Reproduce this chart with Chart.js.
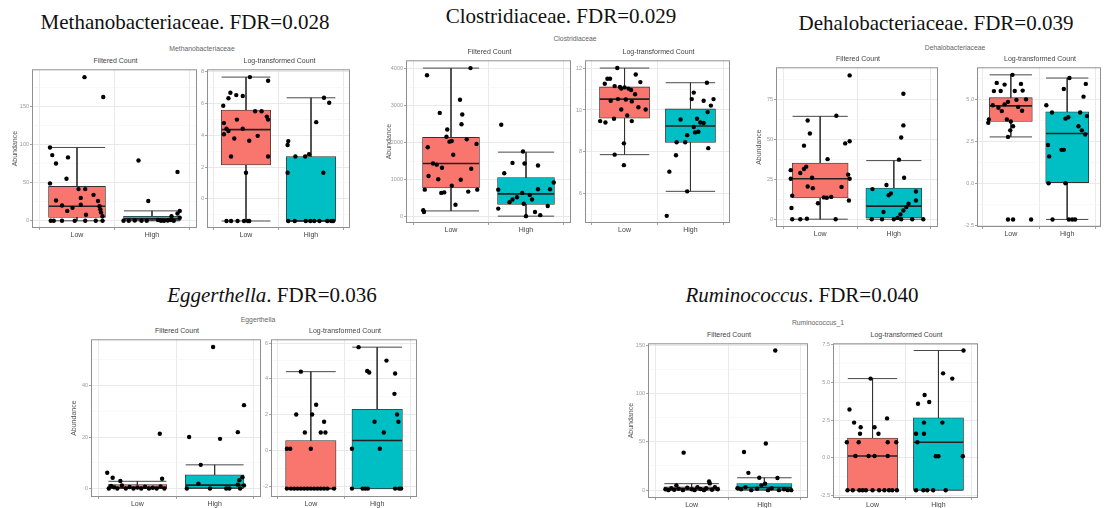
<!DOCTYPE html>
<html>
<head>
<meta charset="utf-8">
<script src="https://cdn.jsdelivr.net/npm/chart.js@4.4.1/dist/chart.umd.min.js"></script>
<style>
  body { margin: 0; width: 1104px; height: 508px; overflow: hidden; background: #fff; position: relative; }
  canvas { position: absolute; }
  .ttl { position: absolute; width: 400px; text-align: center; font-family: "Liberation Serif", serif; font-size: 21px; line-height: 24px; color: #111; white-space: nowrap; }
  .sub { position: absolute; width: 200px; text-align: center; font-family: "Liberation Sans", sans-serif; font-size: 6.8px; line-height: 8px; color: #666; }
  .pt { position: absolute; text-align: center; font-family: "Liberation Sans", sans-serif; font-size: 7px; line-height: 9px; color: #444; }
</style>
</head>
<body>
<div class="ttl" style="left:-15px; top:10px">Methanobacteriaceae. FDR=0.028</div>
<div class="ttl" style="left:361px; top:4px">Clostridiaceae. FDR=0.029</div>
<div class="ttl" style="left:736px; top:11px">Dehalobacteriaceae. FDR=0.039</div>
<div class="ttl" style="left:72px; top:283px"><i>Eggerthella</i>. FDR=0.036</div>
<div class="ttl" style="left:602px; top:283px"><i>Ruminococcus</i>. FDR=0.040</div>

<div class="sub" style="left:102px; top:45px">Methanobacteriaceae</div>
<div class="sub" style="left:475px; top:35px">Clostridiaceae</div>
<div class="sub" style="left:855px; top:44px">Dehalobacteriaceae</div>
<div class="sub" style="left:158px; top:316px">Eggerthella</div>
<div class="sub" style="left:718px; top:319px">Ruminococcus_1</div>

<script>
// categories
const groups = ['Low', 'High'];

// boxes: [lower whisker, q1, median, q3, upper whisker]
// points: [jitter, value]

// Methanobacteriaceae
const methFiltTicks = [0, 50, 100, 150];
const methFiltLowBox = [0, 4.3, 19, 45, 96];
const methFiltHighBox = [0, 0.5, 2.5, 6, 13];
const methFiltLowPts = [[-0.36, 96], [-0.33, 86], [-0.28, 75], [-0.12, 83], [-0.14, 55], [-0.36, 49], [-0.28, 26.5], [-0.2, 20], [-0.13, 13], [-0.06, 17], [0.02, 41.5], [0.11, 41.5], [0.05, 30], [0.05, 21], [0.22, 34], [0.28, 26], [0.3, 19], [0.31, 15], [0.32, 11], [0.12, 8], [0.34, 6], [0.1, 188], [0.35, 162], [-0.35, 0], [-0.31, 0], [-0.2, 0], [-0.03, 0], [0.11, 0], [0.25, 0], [0.34, 0]];
const methFiltHighPts = [[-0.18, 79], [-0.05, 26], [0.34, 64], [0.37, 13], [0.34, 9.5], [0.26, 6], [-0.38, 0], [-0.31, 0], [-0.23, 0.5], [-0.14, 0], [-0.07, 0], [0.08, 1], [0.12, 0], [0.16, 0], [0.21, 0.5], [0.25, 1], [0.29, 0], [0.37, 4]];
const methLogTicks = [0, 2, 4, 6, 8];
const methLogLowBox = [-1.39, 2.13, 4.35, 5.58, 7.65];
const methLogHighBox = [-1.39, -1.39, -1.39, 2.66, 6.35];
const methLogLowPts = [[0.06, 7.65], [0.34, 7.42], [-0.24, 6.67], [-0.15, 6.52], [-0.05, 6.46], [-0.27, 6.32], [-0.35, 5.85], [0.14, 5.5], [0.24, 5.5], [0.32, 5.17], [0.34, 4.98], [-0.34, 4.76], [-0.05, 4.41], [-0.3, 4.41], [-0.27, 4.26], [-0.34, 4.06], [-0.14, 4.98], [0.18, 3.96], [-0.18, 3.79], [0.05, 3.65], [0.34, 2.66], [-0.23, 2.66], [0, 1.64], [-0.3, -1.39], [-0.23, -1.39], [-0.13, -1.39], [-0.03, -1.39], [0.03, -1.39], [0.05, -1.39]];
const methLogHighPts = [[0.2, 6.35], [0.28, 6.04], [0.08, 4.82], [-0.35, 3.63], [-0.36, 3.38], [-0.24, 2.66], [-0.09, 2.66], [-0.03, 2.8], [-0.36, 1.64], [0.19, 1.64], [-0.35, -1.39], [-0.25, -1.39], [-0.08, -1.39], [-0.01, -1.39], [0.05, -1.39], [0.13, -1.39], [0.25, -1.39], [0.31, -1.39], [0.34, -1.39]];

// Clostridiaceae
const closFiltTicks = [0, 1000, 2000, 3000, 4000];
const closFiltLowBox = [159, 779, 1441, 2146, 4019];
const closFiltHighBox = [18, 336, 620, 1060, 1748];
const closFiltLowPts = [[-0.32, 3825], [0.26, 4019], [0.12, 3163], [-0.15, 2808], [0.15, 2765], [0.14, 2500], [-0.05, 2358], [-0.06, 2164], [-0.02, 2032], [0.01, 2050], [0.21, 2093], [0.34, 1971], [-0.31, 1881], [0.03, 1679], [-0.24, 1441], [-0.19, 1410], [-0.12, 1325], [0.27, 1298], [-0.3, 1105], [-0.17, 1017], [0.13, 1000], [0.01, 840], [-0.35, 734], [0.35, 734], [0.23, 681], [-0.13, 646], [-0.09, 660], [0.06, 328], [-0.37, 177], [-0.36, 130]];
const closFiltHighPts = [[-0.33, 2490], [-0.04, 1767], [-0.18, 1457], [-0.02, 1440], [0.16, 1388], [-0.29, 1176], [0.37, 927], [-0.37, 734], [0.16, 745], [0.32, 745], [-0.05, 646], [0.05, 593], [-0.12, 530], [-0.18, 469], [0.08, 469], [-0.22, 397], [-0.03, 355], [0.29, 291], [-0.37, 222], [0.12, 132], [0.19, 45], [0, 18]];
const closLogTicks = [6, 8, 10, 12];
const closLogLowBox = [7.87, 9.61, 10.52, 11.1, 12.0];
const closLogHighBox = [6.12, 8.45, 9.24, 10.05, 11.3];
const closLogLowPts = [[-0.11, 12.0], [-0.26, 11.49], [-0.22, 11.49], [-0.3, 11.25], [0.17, 11.69], [0.24, 11.33], [-0.15, 11.14], [-0.07, 11.1], [0, 11.08], [-0.05, 11.02], [0.06, 11.02], [0.1, 10.95], [0.16, 10.75], [-0.21, 10.44], [-0.1, 10.52], [0.02, 10.5], [0.11, 10.41], [0.21, 10.13], [0.32, 10.02], [-0.05, 10.02], [-0.37, 9.47], [-0.29, 9.4], [-0.16, 9.58], [0.04, 9.74], [0.11, 9.47], [-0.01, 8.41], [-0.15, 7.87], [-0.01, 7.37]];
const closLogHighPts = [[0.25, 11.3], [0.05, 10.83], [0.02, 10.52], [0.2, 10.44], [0.35, 10.52], [0.31, 10.21], [0.26, 9.9], [-0.15, 9.55], [0.1, 9.58], [0.15, 9.4], [0.2, 9.38], [0.05, 9.19], [-0.05, 8.8], [0.07, 8.93], [0.12, 8.96], [-0.21, 8.46], [0.27, 8.18], [-0.08, 8.46], [-0.22, 7.84], [-0.32, 7.06], [-0.05, 6.12], [-0.36, 4.95]];

// Dehalobacteriaceae
const dehaFiltTicks = [0, 25, 50, 75];
const dehaFiltLowBox = [0, 13.4, 25.4, 35.3, 64.6];
const dehaFiltHighBox = [0, 0.8, 8.2, 19.5, 36.8];
const dehaFiltLowPts = [[0.4, 90.3], [-0.17, 62], [0.22, 65], [-0.14, 53.8], [-0.22, 46.2], [0.4, 49], [0.34, 47.6], [0.1, 37.7], [-0.19, 33], [-0.22, 31.5], [-0.27, 29], [-0.4, 30.8], [-0.4, 25.4], [-0.11, 26], [0.38, 28], [0.4, 25.4], [-0.17, 20.5], [-0.1, 19.5], [0.29, 20.3], [-0.38, 14.8], [0.05, 13.7], [0.09, 13.5], [0.15, 14], [-0.03, 10], [0.39, 11.7], [-0.39, 7], [-0.38, 0], [-0.27, 0], [-0.18, 0.3], [0.21, 0]];
const dehaFiltHighPts = [[0.13, 78.8], [0.13, 58.9], [0.1, 51.3], [0.07, 37.4], [0.14, 26], [-0.1, 21.5], [-0.29, 18.9], [0.3, 17.4], [-0.04, 16.2], [-0.07, 15], [0.3, 11.7], [0.2, 9.7], [0.17, 7.6], [-0.14, 4.5], [0.13, 5.5], [0.09, 3], [-0.3, 0], [-0.16, 0], [0, 0], [0.05, 0.8], [0.1, 0], [0.25, 0], [0.4, 0]];
const dehaLogTicks = [-2.5, 0, 2.5, 5];
const dehaLogLowBox = [2.76, 3.68, 4.61, 5.1, 6.46];
const dehaLogHighBox = [-2.16, 0.04, 2.96, 4.26, 6.27];
const dehaLogLowPts = [[0.03, 6.46], [-0.25, 5.98], [-0.11, 5.88], [0.18, 5.92], [-0.3, 5.49], [-0.18, 5.5], [0.07, 5.5], [0.21, 5.52], [0.27, 5.0], [0.1, 4.97], [-0.05, 4.85], [-0.32, 4.65], [-0.22, 4.5], [-0.11, 4.7], [0.13, 4.55], [0.2, 4.32], [-0.16, 4.3], [-0.07, 3.8], [0, 3.68], [-0.4, 3.6], [-0.39, 3.8], [0.04, 3.4], [-0.01, 3.15], [-0.05, 2.76], [-0.05, -2.16], [0.04, -2.16], [0.36, -2.16]];
const dehaLogHighPts = [[0.04, 6.27], [0.33, 5.92], [-0.06, 5.62], [0.29, 5.16], [-0.37, 4.65], [-0.27, 4.22], [0.02, 3.93], [-0.03, 3.85], [0.23, 4.22], [0.35, 4.0], [0.2, 3.4], [0.26, 3.15], [0.32, 2.9], [-0.34, 2.28], [-0.1, 1.99], [-0.06, 1.99], [-0.32, 1.6], [-0.33, 0], [-0.03, 0], [-0.26, -2.16], [0.03, -2.16], [0.09, -2.16], [0.14, -2.16]];

// Eggerthella
const eggeFiltTicks = [0, 20, 40];
const eggeFiltLowBox = [0, 0.1, 0.4, 1.5, 2.8];
const eggeFiltHighBox = [0, 0.2, 1.3, 5.3, 9.2];
const eggeFiltLowPts = [[-0.39, 6.1], [-0.32, 4.2], [-0.22, 2.9], [0.29, 21.3], [0.32, 3.8], [-0.37, 0], [-0.34, 1], [-0.3, 0.5], [-0.26, 0], [-0.2, 1.2], [-0.15, 0], [-0.1, 0.6], [-0.05, 0], [0, 0.4], [0.05, 0], [0.1, 0.7], [0.15, 0], [0.2, 0.3], [0.25, 0], [0.3, 0.8], [0.35, 0]];
const eggeFiltHighPts = [[-0.02, 55], [-0.33, 20], [0.07, 19.3], [0.3, 21.9], [0.38, 32.4], [-0.18, 9.2], [-0.21, 1.9], [0.32, 3.2], [0.36, 4.4], [0.3, 1.5], [-0.36, 0], [-0.06, 0], [0.15, 0], [0.19, 0], [0.33, 0], [0.38, 1.2]];
const eggeLogTicks = [-2, 0, 2, 4, 6];
const eggeLogLowBox = [-2.14, -2.14, -2.14, 0.55, 4.4];
const eggeLogHighBox = [-2.14, -2.14, 0.55, 2.3, 5.77];
const eggeLogLowPts = [[-0.15, 4.4], [-0.22, 2.0], [0.02, 2.0], [0.08, 2.55], [0.2, 1.6], [-0.09, 1.0], [0.15, 1.0], [0.22, 1.0], [-0.36, 0.09], [-0.31, 0.09], [0, 0.09], [-0.36, -2.14], [-0.3, -2.14], [-0.25, -2.14], [-0.2, -2.14], [-0.15, -2.14], [-0.1, -2.14], [-0.05, -2.14], [0, -2.14], [0.05, -2.14], [0.1, -2.14], [0.15, -2.14], [0.2, -2.14], [0.25, -2.14], [0.35, -2.14]];
const eggeLogHighPts = [[-0.28, 5.77], [0.14, 5.02], [-0.15, 4.44], [-0.12, 4.35], [0.27, 4.3], [0.26, 3.16], [-0.04, 1.6], [0.1, 1.0], [0.3, 2.0], [0.32, 1.6], [0.04, 0.09], [-0.38, 0.09], [-0.38, -2.14], [-0.22, -2.14], [-0.18, -2.14], [-0.14, -2.14], [0.27, -2.14], [0.33, -2.14], [0.36, -2.14]];

// Ruminococcus
const rumiFiltTicks = [0, 50, 100, 150];
const rumiFiltLowBox = [0, 0.3, 1.7, 3.4, 6.7];
const rumiFiltHighBox = [0, 0.3, 2.7, 6.8, 12.8];
const rumiFiltLowPts = [[-0.11, 38.8], [-0.21, 5], [0.24, 9], [0.25, 7], [-0.36, 1], [-0.32, 0], [-0.28, 2], [-0.24, 0.5], [-0.18, 1.5], [-0.12, 0], [-0.06, 2.5], [0, 1], [0.04, 0], [0.08, 3], [0.12, 1.2], [0.17, 0], [0.2, 2], [0.28, 0.5], [0.32, 3], [0.36, 1]];
const rumiFiltHighPts = [[0.15, 144.4], [0.02, 48.3], [-0.28, 39.5], [-0.22, 17.9], [-0.07, 12.8], [0.18, 12.6], [0.01, 6.7], [-0.04, 5], [-0.37, 2], [-0.32, 1], [-0.26, 3], [-0.18, 0], [-0.1, 1.5], [0.05, 0], [0.1, 2], [0.2, 0], [0.27, 1], [0.32, 0], [0.37, 0]];
const rumiLogTicks = [-2.5, 0, 2.5, 5, 7.5];
const rumiLogLowBox = [-2.17, -2.17, 0.11, 1.3, 5.26];
const rumiLogHighBox = [-2.17, -2.17, 1.02, 2.65, 7.13];
const rumiLogLowPts = [[-0.03, 5.26], [-0.35, 3.2], [-0.28, 2.33], [-0.18, 2.02], [0.03, 2.02], [-0.19, 1.59], [0.09, 1.59], [0.22, 2.61], [-0.39, 1.02], [-0.21, 1.02], [0.23, 1.02], [0.36, 1.02], [-0.26, 0.11], [-0.06, 0.11], [0.03, 0.11], [0.23, 0.11], [-0.38, -2.17], [-0.3, -2.17], [-0.2, -2.17], [-0.15, -2.17], [-0.1, -2.17], [0, -2.17], [0.1, -2.17], [0.18, -2.17], [0.25, -2.17], [0.3, -2.17], [0.37, -2.17]];
const rumiLogHighPts = [[0.38, 7.13], [0.07, 5.61], [0.21, 5.26], [-0.21, 4.17], [-0.31, 3.59], [-0.14, 3.7], [-0.22, 2.33], [0.06, 2.33], [-0.34, 1.59], [-0.22, 1.59], [-0.32, 1.02], [-0.04, 0.09], [0, 0.09], [0.37, 0.09], [-0.34, -2.17], [-0.23, -2.17], [-0.17, -2.17], [-0.08, -2.17], [0.11, -2.17]];

// panel layout (plot area in page pixels)
const FILT = 'Filtered Count';
const LOG = 'Log-transformed Count';
const plots = [
    { left: 32, top: 66, w: 167, h: 162, min: -9.4, max: 198.3, ticks: methFiltTicks, low: methFiltLowBox, high: methFiltHighBox, lowPts: methFiltLowPts, highPts: methFiltHighPts, title: FILT, yTitle: true },
    { left: 207, top: 66, w: 145, h: 162, min: -1.83, max: 8.14, ticks: methLogTicks, low: methLogLowBox, high: methLogHighBox, lowPts: methLogLowPts, highPts: methLogHighPts, title: LOG },
    { left: 406, top: 57, w: 167, h: 166, min: -167, max: 4230, ticks: closFiltTicks, low: closFiltLowBox, high: closFiltHighBox, lowPts: closFiltLowPts, highPts: closFiltHighPts, title: FILT, yTitle: true },
    { left: 585, top: 57, w: 147, h: 166, min: 4.61, max: 12.37, ticks: closLogTicks, low: closLogLowBox, high: closLogHighBox, lowPts: closLogLowPts, highPts: closLogHighPts, title: LOG },
    { left: 776, top: 64, w: 164, h: 163, min: -4.9, max: 95.4, ticks: dehaFiltTicks, low: dehaFiltLowBox, high: dehaFiltHighBox, lowPts: dehaFiltLowPts, highPts: dehaFiltHighPts, title: FILT, yTitle: true },
    { left: 977, top: 64, w: 126, h: 163, min: -2.61, max: 6.91, ticks: dehaLogTicks, low: dehaLogLowBox, high: dehaLogHighBox, lowPts: dehaLogLowPts, highPts: dehaLogHighPts, title: LOG },
    { left: 91, top: 336, w: 172, h: 161, min: -3.3, max: 58, ticks: eggeFiltTicks, low: eggeFiltLowBox, high: eggeFiltHighBox, lowPts: eggeFiltLowPts, highPts: eggeFiltHighPts, title: FILT, yTitle: true },
    { left: 271, top: 336, w: 148, h: 161, min: -2.61, max: 6.21, ticks: eggeLogTicks, low: eggeLogLowBox, high: eggeLogHighBox, lowPts: eggeLogLowPts, highPts: eggeLogHighPts, title: LOG },
    { left: 648, top: 340, w: 162, h: 158, min: -8.1, max: 151.8, ticks: rumiFiltTicks, low: rumiFiltLowBox, high: rumiFiltHighBox, lowPts: rumiFiltLowPts, highPts: rumiFiltHighPts, title: FILT, yTitle: true },
    { left: 833, top: 340, w: 147, h: 158, min: -2.69, max: 7.61, ticks: rumiLogTicks, low: rumiLogLowBox, high: rumiLogHighBox, lowPts: rumiLogLowPts, highPts: rumiLogHighPts, title: LOG }
];

const colors = ['#F8766D', '#00BFC4'];

// grey panel border, drawn over the data like ggplot
const frame = {
    id: 'frame',
    afterDatasetsDraw(chart) {
        const a = chart.chartArea;
        const ctx = chart.ctx;
        ctx.save();
        ctx.strokeStyle = '#8f8f8f';
        ctx.lineWidth = 1;
        ctx.strokeRect(a.left + 0.5, a.top + 0.5, a.right - a.left - 1, a.bottom - a.top - 1);
        ctx.restore();
    }
};

function makePlot(p) {
    const yw = p.yTitle ? 21 : 14;
    const xh = 15;
    const canvas = document.createElement('canvas');
    canvas.width = yw + p.w + 2;
    canvas.height = p.h + 1 + xh;
    canvas.style.left = (p.left - yw) + 'px';
    canvas.style.top = (p.top - 1) + 'px';
    document.body.appendChild(canvas);

    const t = document.createElement('div');
    t.className = 'pt';
    t.style.left = p.left + 'px';
    t.style.width = p.w + 'px';
    t.style.top = (p.top - 10) + 'px';
    t.textContent = p.title;
    document.body.appendChild(t);

    // major ticks + ggplot style minor lines halfway
    const step = p.ticks[1] - p.ticks[0];
    const minor = [p.ticks[0] - step / 2].concat(p.ticks.map(v => v + step / 2)).filter(v => v > p.min && v < p.max);
    const allTicks = p.ticks.concat(minor).sort((a, b) => a - b);
    const isMajor = v => p.ticks.some(m => Math.abs(m - v) < 1e-9);
    const decimals = p.ticks.some(v => v % 1 !== 0) ? 1 : 0;

    const half = 0.375;
    const boxes = [p.low, p.high];
    const whisk = [];
    const meds = [];
    boxes.forEach((b, i) => {
        const c = i + 1;
        whisk.push({ x: c - half, y: b[4] }, { x: c + half, y: b[4] }, { x: c, y: null },
            { x: c, y: b[4] }, { x: c, y: b[0] }, { x: c, y: null },
            { x: c - half, y: b[0] }, { x: c + half, y: b[0] }, { x: c, y: null });
        meds.push({ x: c - half, y: b[2] }, { x: c + half, y: b[2] }, { x: c, y: null });
    });
    const pts = p.lowPts.map(d => ({ x: 1 + d[0], y: d[1] }))
        .concat(p.highPts.map(d => ({ x: 2 + d[0], y: d[1] })));

    new Chart(canvas, {
        type: 'scatter',
        data: {
            datasets: [
                {
                    type: 'scatter',
                    data: pts,
                    pointRadius: 2.2,
                    pointBackgroundColor: '#000',
                    pointBorderWidth: 0,
                    order: 0
                },
                {
                    type: 'line',
                    data: meds,
                    borderColor: '#222',
                    borderWidth: 1.6,
                    pointRadius: 0,
                    spanGaps: false,
                    order: 1
                },
                {
                    type: 'bar',
                    data: boxes.map((b, i) => ({ x: i + 1, y: [b[1], b[3]] })),
                    backgroundColor: colors,
                    borderColor: '#333',
                    borderWidth: 0.8,
                    borderSkipped: false,
                    barThickness: 0.75 * p.w / 2.2,
                    order: 2
                },
                {
                    type: 'line',
                    data: whisk,
                    borderColor: '#333',
                    borderWidth: 0.9,
                    pointRadius: 0,
                    spanGaps: false,
                    order: 3
                }
            ]
        },
        options: {
            responsive: false,
            animation: false,
            events: [],
            layout: { padding: { top: 1, right: 2, left: 0, bottom: 0 } },
            plugins: { legend: { display: false }, tooltip: { enabled: false } },
            scales: {
                x: {
                    type: 'linear',
                    min: 0.4,
                    max: 2.6,
                    offset: false,
                    afterBuildTicks: s => { s.ticks = [{ value: 1 }, { value: 2 }]; },
                    afterFit: s => { s.height = xh; },
                    ticks: {
                        callback: (v, i) => groups[i],
                        font: { family: 'Liberation Sans', size: 7 },
                        color: '#444',
                        padding: 1,
                        maxRotation: 0
                    },
                    grid: { color: '#e6e6e6', lineWidth: 0.9, tickLength: 2, tickColor: '#999' },
                    border: { display: false }
                },
                y: {
                    type: 'linear',
                    min: p.min,
                    max: p.max,
                    afterBuildTicks: s => { s.ticks = allTicks.map(v => ({ value: v })); },
                    afterFit: s => { s.width = yw; },
                    title: {
                        display: !!p.yTitle,
                        text: 'Abundance',
                        font: { family: 'Liberation Sans', size: 7 },
                        color: '#555',
                        padding: 0
                    },
                    ticks: {
                        autoSkip: false,
                        callback: v => isMajor(v) ? v.toFixed(decimals) : '',
                        font: { family: 'Liberation Sans', size: 5.5 },
                        color: '#999',
                        padding: 1
                    },
                    grid: {
                        color: c => (c.tick && isMajor(c.tick.value)) ? '#e6e6e6' : '#f3f3f3',
                        lineWidth: c => (c.tick && isMajor(c.tick.value)) ? 0.9 : 0.6,
                        tickLength: 2,
                        tickColor: c => (c.tick && isMajor(c.tick.value)) ? '#999' : 'rgba(0,0,0,0)'
                    },
                    border: { display: false }
                }
            }
        },
        plugins: [frame]
    });
}

plots.forEach(makePlot);
</script>
</body>
</html>
